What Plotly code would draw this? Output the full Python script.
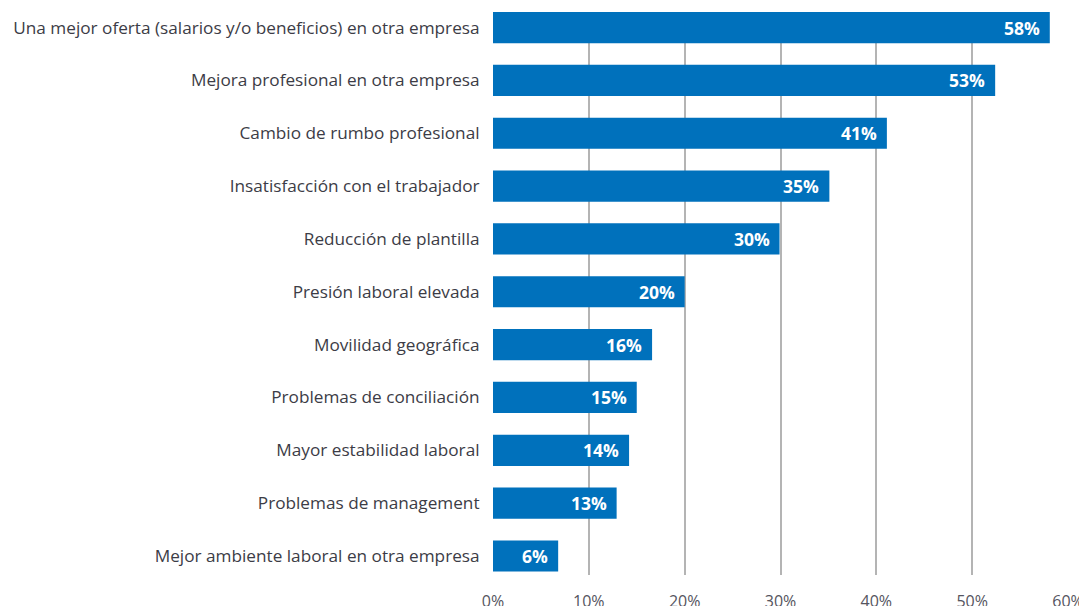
import plotly.graph_objects as go

categories = [
    "Una mejor oferta (salarios y/o beneficios) en otra empresa",
    "Mejora profesional en otra empresa",
    "Cambio de rumbo profesional",
    "Insatisfacción con el trabajador",
    "Reducción de plantilla",
    "Presión laboral elevada",
    "Movilidad geográfica",
    "Problemas de conciliación",
    "Mayor estabilidad laboral",
    "Problemas de management",
    "Mejor ambiente laboral en otra empresa",
]
values = [58.1, 52.4, 41.1, 35.1, 29.9, 20.0, 16.6, 15.0, 14.2, 12.9, 6.8]
labels = ["58%", "53%", "41%", "35%", "30%", "20%", "16%", "15%", "14%", "13%", "6%"]
tick_vals = [0, 10, 20, 30, 40, 50, 60]
tick_text = ["0%", "10%", "20%", "30%", "40%", "50%", "60%"]

BAR = "#0071bc"
FONT = "Open Sans"

fig = go.Figure(go.Bar(
    x=values, y=categories, orientation="h",
    marker=dict(color=BAR, line=dict(width=0)),
    width=0.59, hoverinfo="skip",
))

for c, v, t in zip(categories, values, labels):
    fig.add_annotation(x=v, y=c, text="<b>%s</b>" % t, showarrow=False,
                       xanchor="right", xshift=-8,
                       font=dict(family=FONT, size=17.5, color="white"))

n = len(categories)
fig.update_layout(
    width=1087, height=606,
    margin=dict(l=485, r=27, t=4, b=39, autoexpand=False),
    paper_bgcolor="white", plot_bgcolor="white",
    showlegend=False,
    font=dict(family=FONT, size=17, color="#3c3c46"),
    xaxis=dict(range=[0, 60], tickvals=tick_vals, ticktext=tick_text,
               showgrid=True, gridcolor="#b4b4b4", gridwidth=1.5,
               zeroline=False, showline=False, automargin=False,
               ticks="outside", ticklen=12, tickcolor="rgba(0,0,0,0)",
               tickfont=dict(family=FONT, size=16, color="#555560")),
    yaxis=dict(categoryorder="array", categoryarray=categories,
               range=[n - 1 + 0.36, -0.295], automargin=False,
               showgrid=False, zeroline=False, showline=False,
               ticks="outside", ticklen=9, tickcolor="rgba(0,0,0,0)",
               tickfont=dict(family=FONT, size=17.2, color="#3c3c46")),
)
fig.write_html("out.html")
